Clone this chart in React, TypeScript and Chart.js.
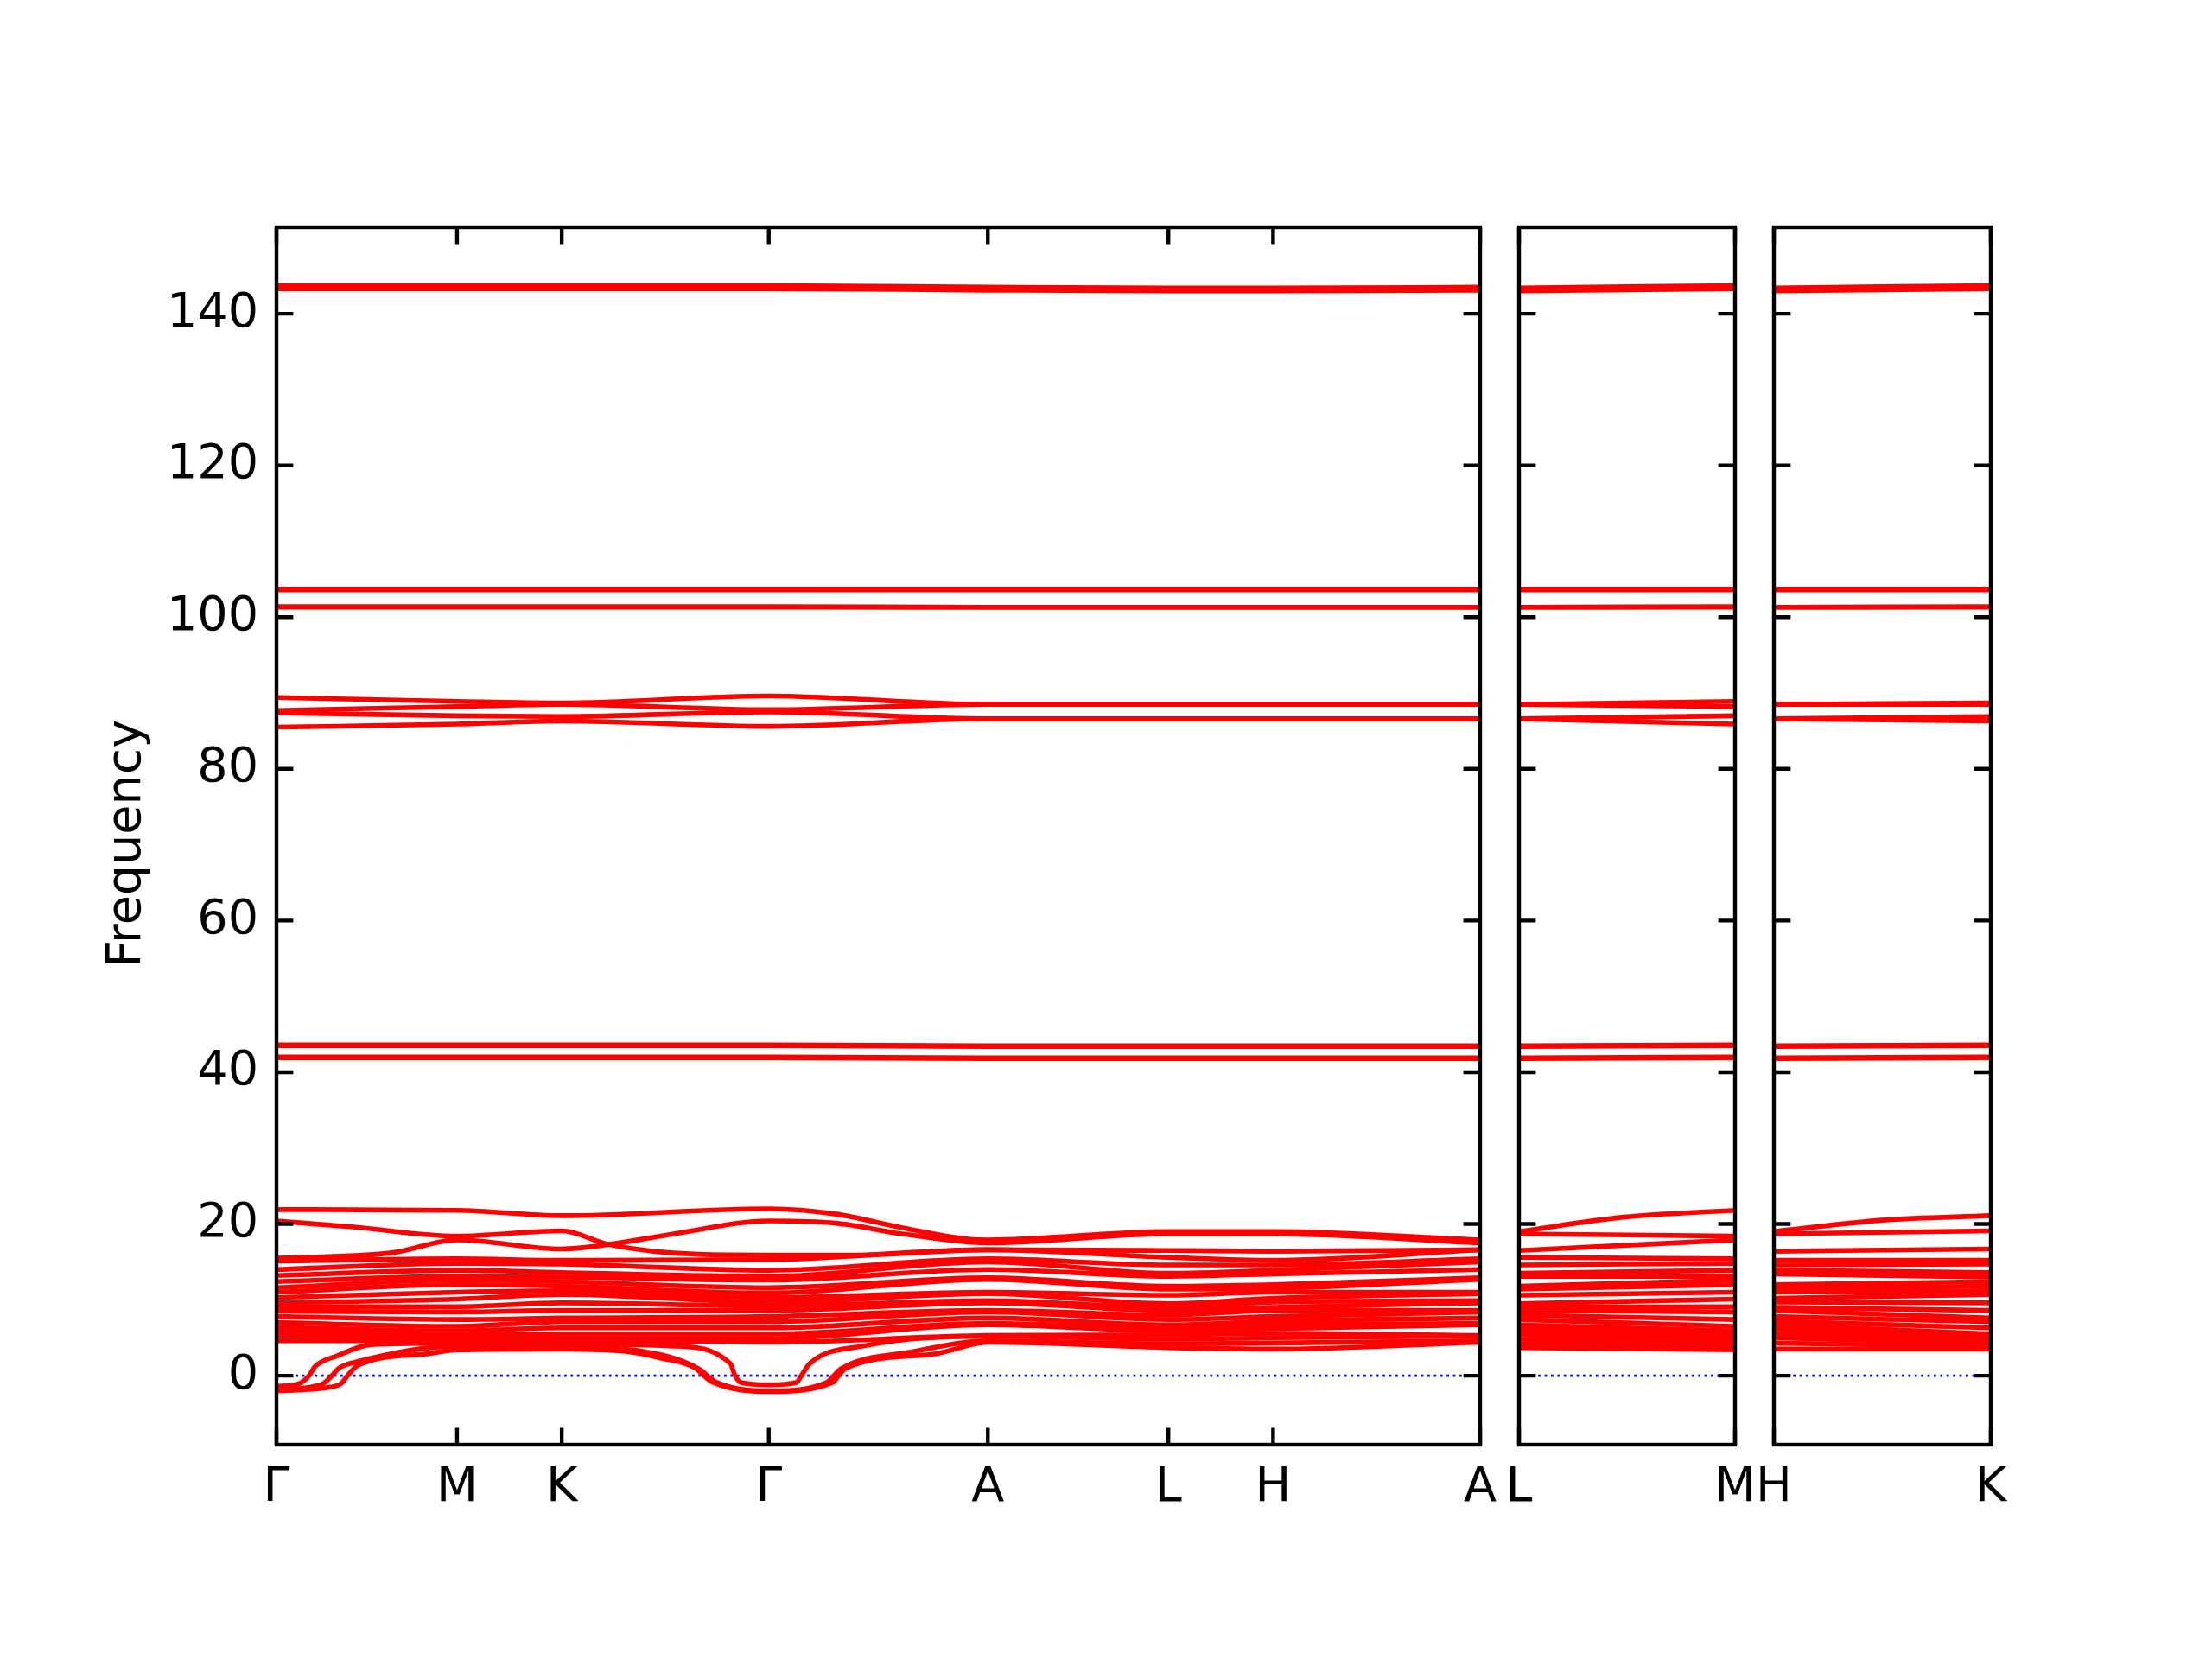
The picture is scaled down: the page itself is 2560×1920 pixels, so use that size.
import React, { useEffect, useRef } from 'react';
import { Chart, registerables } from 'chart.js';

Chart.register(...registerables);

// ---------- axis data ----------
const Y_MIN = -9.1;
const Y_MAX = 151.4;
const Y_TICKS = [0, 20, 40, 60, 80, 100, 120, 140];
const Y_TITLE = 'Frequency';

// panel 1 path: Γ–M–K–Γ–A–L–H–A
const P1_LABELS = ['Γ', 'M', 'K', 'Γ', 'A', 'L', 'H', 'A'];
const P1_TICKS = [0, 0.150, 0.237, 0.409, 0.591, 0.741, 0.828, 1.0];
// panel 2: L–M, panel 3: H–K
const P2_LABELS = ['L', 'M'];
const P2_TICKS = [0, 0.18];
const P3_LABELS = ['H', 'K'];
const P3_TICKS = [0, 0.18];

// ---------- high-frequency bands, values at Γ M K Γ A L H A ----------
const HIGH_BANDS = [
  [143.7, 143.7, 143.7, 143.7, 143.5, 143.4, 143.4, 143.5],
  [143.3, 143.3, 143.3, 143.3, 143.1, 143.0, 143.0, 143.1],
  [103.7, 103.7, 103.7, 103.7, 103.7, 103.7, 103.7, 103.7],
  [103.6, 103.6, 103.6, 103.6, 103.6, 103.6, 103.6, 103.6],
  [101.4, 101.4, 101.4, 101.4, 101.3, 101.3, 101.3, 101.3],
  [101.3, 101.3, 101.3, 101.3, 101.3, 101.3, 101.3, 101.3],
  [89.4, 88.9, 88.7, 89.6, 88.5, 88.5, 88.5, 88.5],
  [87.7, 88.2, 88.5, 87.8, 88.5, 88.5, 88.5, 88.5],
  [87.4, 87.0, 86.9, 87.5, 86.6, 86.6, 86.6, 86.6],
  [85.5, 85.9, 86.3, 85.6, 86.6, 86.6, 86.6, 86.6],
  [43.6, 43.6, 43.6, 43.6, 43.5, 43.5, 43.5, 43.5],
  [43.5, 43.5, 43.5, 43.5, 43.4, 43.4, 43.4, 43.4],
  [42.0, 42.0, 42.0, 42.0, 41.9, 41.9, 41.9, 41.9],
  [41.9, 41.9, 41.9, 41.9, 41.8, 41.8, 41.8, 41.8],
];

// ---------- low optical bands, values at Γ M K Γ A L H A ----------
const MID_BANDS = [
  [15.1, 15.4, 15.2, 15.3, 16.6, 15.6, 15.2, 16.6],
  [14.0, 14.8, 14.7, 13.9, 15.4, 14.6, 14.6, 15.4],
  [13.2, 13.9, 13.6, 13.1, 15.0, 13.5, 13.9, 15.0],
  [12.4, 13.1, 13.0, 12.6, 14.0, 13.1, 13.4, 14.0],
  [11.6, 12.6, 12.4, 11.6, 12.9, 11.8, 12.0, 12.9],
  [11.0, 12.0, 11.8, 10.9, 12.7, 11.4, 11.5, 12.7],
  [10.3, 11.0, 11.2, 10.3, 11.0, 10.6, 11.0, 11.0],
  [9.6, 10.1, 10.7, 9.7, 10.8, 9.5, 10.2, 10.8],
  [9.1, 9.1, 9.6, 9.2, 9.9, 9.0, 9.7, 9.9],
  [8.5, 8.4, 8.6, 8.6, 9.6, 8.6, 9.0, 9.6],
  [7.8, 7.4, 7.6, 7.8, 8.6, 8.0, 8.6, 8.6],
  [7.0, 6.5, 7.1, 7.1, 8.4, 7.4, 7.8, 8.4],
  [6.4, 5.9, 6.3, 6.3, 7.6, 6.7, 7.2, 7.6],
  [5.9, 5.4, 5.5, 5.5, 6.9, 6.3, 6.7, 6.9],
  [5.3, 5.0, 4.9, 4.9, 6.7, 5.9, 6.2, 6.7],
  [4.6, 4.6, 4.6, 4.4, 5.3, 5.4, 5.6, 5.3],
];

// ---------- top low bands with their own sampling ----------
const T1_X = [0, 0.150, 0.237, 0.409, 0.465, 0.52, 0.575, 0.591, 0.741, 0.828, 1.0];
const T1_Y = [21.9, 21.8, 21.1, 22.0, 21.3, 19.5, 18.0, 17.9, 19.0, 19.0, 17.9];
const T2_X = [0, 0.064, 0.150, 0.237, 0.276, 0.35, 0.409, 0.48, 0.591, 0.741, 0.828, 1.0];
const T2_Y = [20.4, 19.6, 18.4, 19.1, 17.3, 16.0, 15.9, 15.9, 16.6, 16.5, 16.4, 16.6];
const T3_X = [0, 0.096, 0.150, 0.237, 0.276, 0.33, 0.409, 0.465, 0.52, 0.591, 0.741, 0.828, 1.0];
const T3_Y = [15.5, 16.2, 17.9, 16.7, 17.3, 18.7, 20.4, 20.1, 18.7, 17.5, 18.7, 18.7, 17.5];

// ---------- acoustic bands (imaginary near Γ) ----------
const AC1_X = [0, 0.018, 0.027, 0.032, 0.05, 0.079, 0.150, 0.237, 0.33, 0.377, 0.381, 0.386, 0.409, 0.432, 0.436, 0.443, 0.487, 0.591, 0.741, 0.828, 1.0];
const AC1_Y = [-1.4, -1.1, 0, 1.2, 2.6, 4.1, 4.3, 4.2, 3.9, 1.6, 0, -0.9, -1.2, -0.9, 0, 1.6, 3.9, 5.2, 4.8, 5.0, 5.2];
const AC2_X = [0, 0.045, 0.054, 0.059, 0.068, 0.126, 0.150, 0.237, 0.29, 0.32, 0.348, 0.355, 0.363, 0.409, 0.462, 0.467, 0.473, 0.548, 0.591, 0.741, 0.828, 1.0];
const AC2_Y = [-2.0, -1.5, -1.0, 0, 1.4, 2.9, 3.4, 3.5, 3.2, 2.3, 1.0, 0, -0.9, -2.1, -0.9, 0, 1.0, 2.9, 4.4, 3.7, 3.5, 4.4];
const AC3_X = [0, 0.038, 0.046, 0.052, 0.066, 0.150, 0.237, 0.30, 0.352, 0.358, 0.366, 0.409, 0.457, 0.463, 0.469, 0.53, 0.591, 0.741, 0.828, 1.0];
const AC3_Y = [-1.9, -1.1, 0, 1.0, 1.8, 3.9, 3.8, 3.3, 0.8, 0, -0.9, -2.0, -0.9, 0, 0.9, 3.2, 4.6, 4.2, 4.3, 4.6];

// ---------- panel 2 (L -> M) low bands ----------
const P2_TOP_X = [0, 0.087, 0.18];
const P2_TOP_Y = [19.0, 20.9, 21.8];
const P2_LOW_L = [18.7, 16.5, 15.6, 14.6, 13.5, 13.1, 11.8, 11.4, 10.6, 9.5, 9.0, 8.6, 8.0, 7.4, 6.7, 6.3, 5.9, 5.4, 4.8, 4.2, 3.7];
const P2_LOW_M = [18.4, 17.9, 15.4, 14.8, 13.9, 13.1, 12.6, 12.0, 11.0, 10.1, 9.1, 8.4, 7.4, 6.5, 5.9, 5.4, 5.0, 4.6, 4.3, 3.9, 3.4];

// ---------- panel 3 (H -> K) low bands ----------
const P3_TOP_X = [0, 0.09, 0.18];
const P3_TOP_Y = [19.0, 20.5, 21.1];
const P3_LOW_H = [18.7, 16.4, 15.2, 14.6, 13.9, 13.4, 12.0, 11.5, 11.0, 10.2, 9.7, 9.0, 8.6, 7.8, 7.2, 6.7, 6.2, 5.6, 5.0, 4.3, 3.5];
const P3_LOW_K = [19.1, 16.7, 15.2, 14.7, 13.6, 13.0, 12.4, 11.8, 11.2, 10.7, 9.6, 8.6, 7.6, 7.1, 6.3, 5.5, 4.9, 4.6, 4.2, 3.8, 3.5];

// ---------- helpers ----------
const FONT = { family: '"DejaVu Sans", sans-serif', size: 55.6 };
const RED = '#ff0000';
const LINE_W = 5.6;
const TICK_LEN = 19.4;
const SPINE_W = 4.4;

const zip = (xs: number[], ys: number[]) => xs.map((x, i) => ({ x, y: ys[i] }));

const bandDs = (pts: { x: number; y: number }[]) => ({
  data: pts,
  borderColor: RED,
  borderWidth: LINE_W,
  pointRadius: 0,
  fill: false,
  cubicInterpolationMode: 'monotone' as const,
});

const zeroDs = (xmax: number) => ({
  data: [{ x: 0, y: 0 }, { x: xmax, y: 0 }],
  borderColor: '#0000ff',
  borderWidth: 2.8,
  borderDash: [2.8, 4.6],
  pointRadius: 0,
  fill: false,
});

function panel1Datasets() {
  const ds: any[] = [];
  HIGH_BANDS.forEach((b) => ds.push(bandDs(zip(P1_TICKS, b))));
  MID_BANDS.forEach((b) => ds.push(bandDs(zip(P1_TICKS, b))));
  ds.push(bandDs(zip(T1_X, T1_Y)));
  ds.push(bandDs(zip(T2_X, T2_Y)));
  ds.push(bandDs(zip(T3_X, T3_Y)));
  ds.push(bandDs(zip(AC1_X, AC1_Y)));
  ds.push(bandDs(zip(AC2_X, AC2_Y)));
  ds.push(bandDs(zip(AC3_X, AC3_Y)));
  ds.push(zeroDs(1.0));
  return ds;
}

function sidePanelDatasets(iA: number, iB: number, topX: number[], topY: number[], lowA: number[], lowB: number[], xmax: number) {
  const ds: any[] = [];
  HIGH_BANDS.forEach((b) => ds.push(bandDs([{ x: 0, y: b[iA] }, { x: xmax, y: b[iB] }])));
  ds.push(bandDs(zip(topX, topY)));
  lowA.forEach((v, i) => ds.push(bandDs([{ x: 0, y: v }, { x: xmax, y: lowB[i] }])));
  ds.push(zeroDs(xmax));
  return ds;
}

const framePlugin = (xTicks: number[]) => ({
  id: 'frame',
  afterDatasetsDraw(chart: any) {
    const { ctx, chartArea, scales } = chart;
    const { left, right, top, bottom } = chartArea;
    ctx.save();
    ctx.strokeStyle = '#000000';
    ctx.lineWidth = SPINE_W;
    ctx.beginPath();
    Y_TICKS.forEach((v) => {
      const y = scales.y.getPixelForValue(v);
      ctx.moveTo(left, y);
      ctx.lineTo(left + TICK_LEN, y);
      ctx.moveTo(right, y);
      ctx.lineTo(right - TICK_LEN, y);
    });
    xTicks.forEach((v) => {
      const x = scales.x.getPixelForValue(v);
      ctx.moveTo(x, bottom);
      ctx.lineTo(x, bottom - TICK_LEN);
      ctx.moveTo(x, top);
      ctx.lineTo(x, top + TICK_LEN);
    });
    ctx.stroke();
    ctx.lineJoin = 'miter';
    ctx.strokeRect(left, top, right - left, bottom - top);
    ctx.restore();
  },
});

type PanelSpec = {
  datasets: any[];
  ticks: number[];
  labels: string[];
  xmax: number;
  padLeft: number;
  padRight: number;
  showY: boolean;
};

function makeConfig(p: PanelSpec): any {
  return {
    type: 'line',
    data: { datasets: p.datasets },
    options: {
      animation: false,
      responsive: false,
      maintainAspectRatio: false,
      events: [],
      layout: { padding: { left: p.padLeft, right: p.padRight, top: 263, bottom: 148 } },
      plugins: { legend: { display: false }, tooltip: { enabled: false }, title: { display: false } },
      scales: {
        x: {
          type: 'linear',
          min: 0,
          max: p.xmax,
          grid: { display: false, drawTicks: false },
          border: { display: false },
          afterBuildTicks: (s: any) => {
            s.ticks = p.ticks.map((v) => ({ value: v }));
          },
          afterFit: (s: any) => {
            s.height = 100;
          },
          ticks: {
            autoSkip: false,
            maxRotation: 0,
            minRotation: 0,
            padding: 17,
            color: '#000000',
            font: FONT,
            callback: (_v: any, i: number) => p.labels[i],
          },
        },
        y: {
          type: 'linear',
          min: Y_MIN,
          max: Y_MAX,
          display: p.showY,
          grid: { display: false, drawTicks: false },
          border: { display: false },
          afterBuildTicks: (s: any) => {
            s.ticks = Y_TICKS.map((v) => ({ value: v }));
          },
          afterFit: (s: any) => {
            if (p.showY) s.width = 206;
          },
          ticks: {
            padding: 21,
            color: '#000000',
            font: FONT,
            callback: (v: any) => String(v),
          },
          title: {
            display: p.showY,
            // trailing space nudges the rotated label slightly down, as in the reference
            text: Y_TITLE + ' ',
            color: '#000000',
            font: FONT,
            padding: { top: 0, bottom: 0 },
          },
        },
      },
    },
    plugins: [framePlugin(p.ticks)],
  };
}

function PanelCanvas({ spec }: { spec: PanelSpec }) {
  const ref = useRef<HTMLCanvasElement | null>(null);
  useEffect(() => {
    if (!ref.current) return;
    const chart = new Chart(ref.current, makeConfig(spec));
    return () => chart.destroy();
  }, [spec]);
  return (
    <canvas
      ref={ref}
      width={2560}
      height={1920}
      style={{ position: 'absolute', left: 0, top: 0, width: 2560, height: 1920 }}
    />
  );
}

const PANELS: PanelSpec[] = [
  {
    datasets: panel1Datasets(),
    ticks: P1_TICKS,
    labels: P1_LABELS,
    xmax: 1.0,
    padLeft: 114,
    padRight: 2560 - 1713,
    showY: true,
  },
  {
    datasets: sidePanelDatasets(5, 1, P2_TOP_X, P2_TOP_Y, P2_LOW_L, P2_LOW_M, 0.18),
    ticks: P2_TICKS,
    labels: P2_LABELS,
    xmax: 0.18,
    padLeft: 1758,
    padRight: 2560 - 2008,
    showY: false,
  },
  {
    datasets: sidePanelDatasets(6, 2, P3_TOP_X, P3_TOP_Y, P3_LOW_H, P3_LOW_K, 0.18),
    ticks: P3_TICKS,
    labels: P3_LABELS,
    xmax: 0.18,
    padLeft: 2053,
    padRight: 2560 - 2304,
    showY: false,
  },
];

export default function App() {
  return (
    <div style={{ position: 'absolute', left: 0, top: 0, width: 2560, height: 1920, background: '#ffffff' }}>
      {PANELS.map((p, i) => (
        <PanelCanvas key={i} spec={p} />
      ))}
    </div>
  );
}
